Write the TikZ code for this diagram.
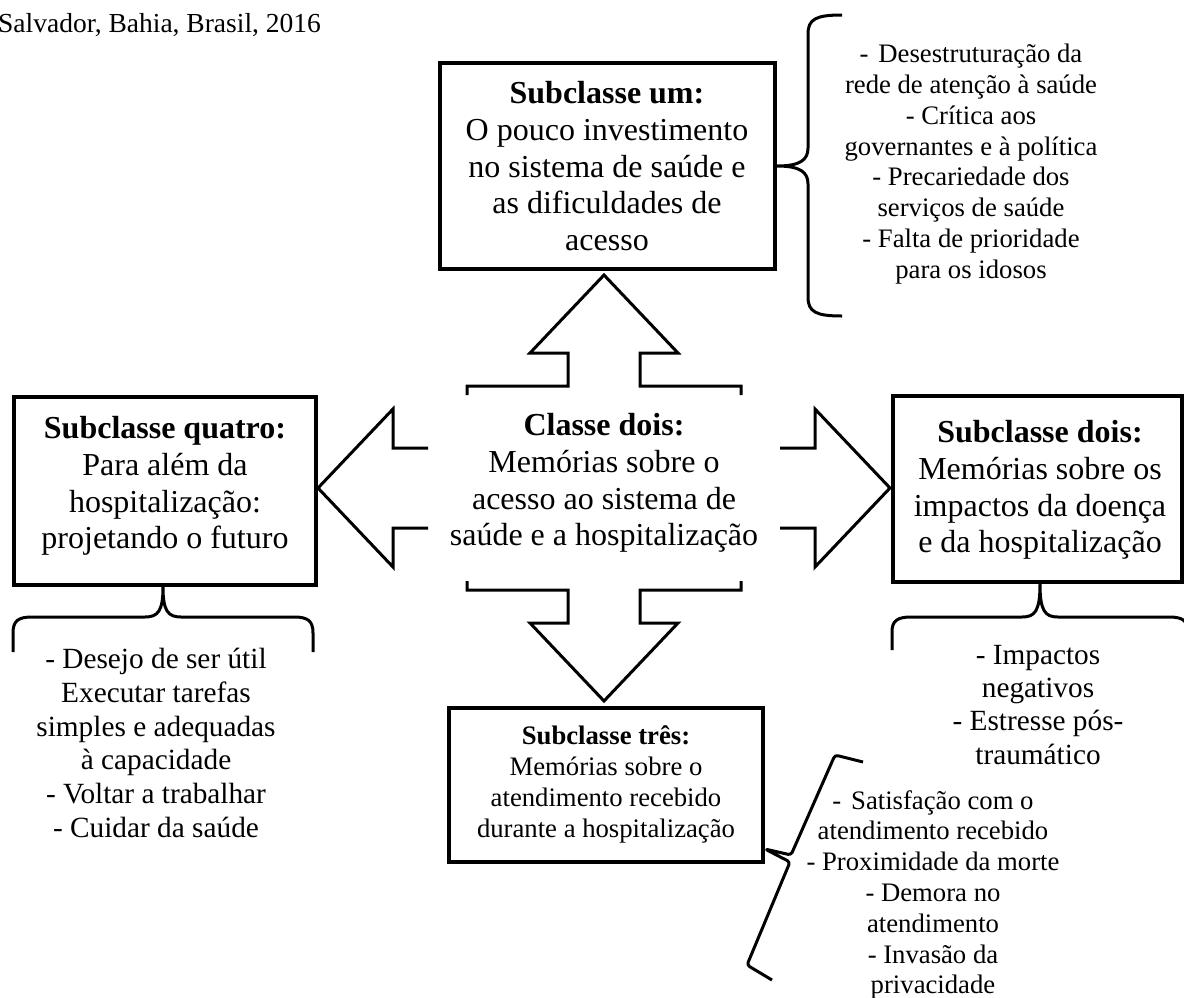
\documentclass[tikz,border=0pt]{standalone}
\usepackage{fontspec}
\setmainfont{Liberation Serif}
\tikzset{
  boxline/.style={draw=black, line width=3.8pt, inner sep=0pt},
  arrowline/.style={draw=black, line width=3pt, line join=miter, miter limit=10},
  braceline/.style={draw=black, line width=3pt, line join=round},
  bigtxt/.style={font=\fontsize{32}{36.8}\selectfont, align=center, inner sep=0pt, anchor=north},
  midtxt/.style={font=\fontsize{29.3}{33.5}\selectfont, align=center, inner sep=0pt, anchor=north},
  smalltxt/.style={font=\fontsize{26.7}{31}\selectfont, align=center, inner sep=0pt, anchor=north},
}
\begin{document}
\begin{tikzpicture}[x=1pt,y=-1pt]
\useasboundingbox (0,0) rectangle (1184,997);

% title fragment
\node[anchor=base west, inner sep=0pt, font=\fontsize{27.5}{33}\selectfont] (titulo) at (-2,32) {Salvador, Bahia, Brasil, 2016};

% boxes
\node[boxline, minimum width=335pt, minimum height=206pt] (um) at (607.5,166) {};
\node[boxline, minimum width=302pt, minimum height=188pt] (quatro) at (165,491) {};
\node[boxline, minimum width=289pt, minimum height=186pt] (dois) at (1037.5,489) {};
\node[boxline, minimum width=314pt, minimum height=154pt] (tres) at (606,785) {};

% box texts
\node[bigtxt] (umtxt) at (607,81) {\textbf{Subclasse um:}\\O pouco investimento\\no sistema de saúde e\\as dificuldades de\\acesso};
\node[bigtxt] (classe) at (604,413) {\textbf{Classe dois:}\\Memórias sobre o\\acesso ao sistema de\\saúde e a hospitalização};
\node[bigtxt] (quatrotxt) at (165,416) {\textbf{Subclasse quatro:}\\Para além da\\hospitalização:\\projetando o futuro};
\node[bigtxt] (doistxt) at (1040,420) {\textbf{Subclasse dois:}\\Memórias sobre os\\impactos da doença\\e da hospitalização};
\node[smalltxt] (trestxt) at (606,725) {\textbf{Subclasse três:}\\Memórias sobre o\\atendimento recebido\\durante a hospitalização};

% quad arrow around the central class
\begin{scope}[shift={(604,488)}]
  \coordinate (ctr) at (0,0);
  \draw[arrowline] (-137,-93) -- (-137,-102) -- (-36,-102) -- (-36,-135) -- (-74,-135) -- (0,-213) -- (74,-135) -- (36,-135) -- (36,-102) -- (137,-102) -- (137,-93);
  \draw[arrowline] (-137,93) -- (-137,102) -- (-36,102) -- (-36,135) -- (-74,135) -- (0,213) -- (74,135) -- (36,135) -- (36,102) -- (137,102) -- (137,93);
  \draw[arrowline] (-176,-40) -- (-211,-40) -- (-211,-79) -- (-286,0) -- (-211,79) -- (-211,40) -- (-176,40);
  \draw[arrowline] (176,-40) -- (211,-40) -- (211,-79) -- (286,0) -- (211,79) -- (211,40) -- (176,40);
\end{scope}

% brace right of Subclasse um
\draw[braceline] (842,15) .. controls (816,15) and (808,19) .. (808,34) -- (808,148) .. controls (808,160) and (800,166) .. (um.east) .. controls (800,166) and (808,172) .. (808,184) -- (808,297) .. controls (808,312) and (816,316) .. (842,316);
\node[smalltxt, font=\fontsize{26.7}{30.8}\selectfont] (umlist) at (971,44) {-\hspace{0.12em} Desestruturação da\\rede de atenção à saúde\\- Crítica aos\\governantes e à política\\- Precariedade dos\\serviços de saúde\\- Falta de prioridade\\para os idosos};

% brace below Subclasse quatro
\draw[braceline] (13,652) -- (13,633) .. controls (13,621) and (18,617) .. (32,617) -- (145,617) .. controls (158,617) and (163,611) .. (163,587) .. controls (163,611) and (168,617) .. (181,617) -- (294,617) .. controls (308,617) and (313,621) .. (313,633) -- (313,652);
\node[midtxt, font=\fontsize{29.3}{33.8}\selectfont] (quatrolist) at (156,648) {- Desejo de ser útil\\Executar tarefas\\simples e adequadas\\à capacidade\\- Voltar a trabalhar\\- Cuidar da saúde};

% brace below Subclasse dois
\draw[braceline] (892,650) -- (892,632) .. controls (892,621) and (897,617) .. (911,617) -- (1022,617) .. controls (1035,617) and (1040,611) .. (1040,584) .. controls (1040,611) and (1045,617) .. (1058,617) -- (1169,617) .. controls (1183,617) and (1188,621) .. (1188,632) -- (1188,650);
\node[midtxt, font=\fontsize{29.3}{33.3}\selectfont] (doislist) at (1038,645) {- Impactos\\negativos\\- Estresse pós-\\traumático};

% slanted brace right of Subclasse tres
\coordinate (tipT) at (765,849);
\draw[braceline, rounded corners=3pt] (863,762) -- (835,755) -- (791,855) -- (tipT) -- (790,862) -- (747,965) -- (772,980);
\node[smalltxt, font=\fontsize{26.7}{30.8}\selectfont] (treslist) at (933,790) {-\hspace{0.12em} Satisfação com o\\atendimento recebido\\- Proximidade da morte\\- Demora no\\atendimento\\- Invasão da\\privacidade};
\end{tikzpicture}
\end{document}
